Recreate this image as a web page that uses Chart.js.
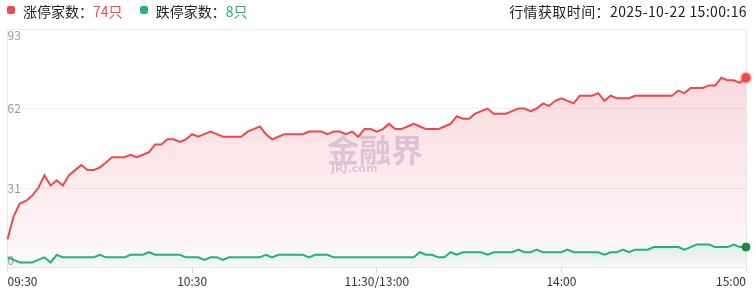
<!DOCTYPE html>
<html>
<head>
<meta charset="utf-8">
<script src="https://cdn.jsdelivr.net/npm/chart.js@4/dist/chart.umd.min.js"></script>
<style>
    body { margin: 0; width: 756px; height: 295px; position: relative; overflow: hidden; background: #fff;
           font-family: "Microsoft YaHei", "Noto Sans CJK SC", sans-serif; }
    .hd { position: absolute; top: 0; left: 0; right: 0; height: 22px; font-size: 14px; color: #222; line-height: 22px; }
    .hd .lg { position: absolute; left: 7px; }
    .hd .lg span.sq { display: inline-block; width: 8px; height: 8px; border-radius: 2px; margin-right: 8px; vertical-align: 3px; }
    .hd .up { color: #f2474b; }
    .hd .dn { color: #1fb57a; }
    .hd .tm { position: absolute; right: 9px; letter-spacing: 0.4px; }
    #wrap { position: absolute; left: 0; top: 0; width: 756px; height: 295px; }
</style>
</head>
<body>
<div id="wrap"><canvas id="limit-chart"></canvas></div>
<div class="hd">
    <div class="lg">
        <span class="sq" style="background:#f2474b"></span>涨停家数：<span class="up">74只</span>
        <span class="sq" style="background:#1fb57a;margin-left:14px"></span>跌停家数：<span class="dn">8只</span>
    </div>
    <div class="tm">行情获取时间：2025-10-22 15:00:16</div>
</div>
<script>
// one point every 2 minutes: 09:30-11:30, 13:00-15:00
const limitUp = [
    11, 20, 25, 26, 28, 31, 36, 32, 34, 32,
    36, 38, 40, 38, 38, 39, 41, 43, 43, 43,
    44, 43, 44, 45, 48, 48, 50, 50, 49, 50,
    52, 51, 52, 53, 52, 51, 51, 51, 51, 53,
    54, 55, 52, 50, 51, 52, 52, 52, 52, 53,
    53, 53, 52, 53, 53, 52, 53, 51, 54, 54,
    53, 54, 56, 54, 54, 55, 56, 55, 54, 54,
    54, 55, 56, 59, 58, 58, 60, 61, 62, 60,
    60, 60, 61, 62, 62, 61, 62, 64, 63, 65,
    66, 65, 64, 67, 67, 67, 68, 65, 67, 66,
    66, 66, 67, 67, 67, 67, 67, 67, 67, 69,
    68, 70, 70, 70, 71, 71, 74, 73, 73, 72, 74
];
const limitDown = [
    4, 3, 2, 2, 2, 3, 4, 2, 5, 4,
    4, 4, 4, 4, 4, 5, 4, 4, 4, 4,
    5, 5, 5, 6, 5, 5, 5, 5, 5, 4,
    4, 4, 3, 4, 4, 3, 4, 4, 4, 4,
    4, 4, 5, 4, 5, 5, 5, 5, 5, 4,
    5, 5, 5, 4, 4, 4, 4, 4, 4, 4,
    4, 4, 4, 4, 4, 4, 4, 6, 5, 5,
    4, 4, 6, 5, 6, 6, 6, 6, 5, 6,
    6, 6, 6, 7, 6, 6, 7, 6, 6, 6,
    6, 7, 6, 6, 6, 6, 6, 5, 6, 6,
    7, 6, 7, 7, 7, 8, 8, 8, 8, 8,
    7, 8, 9, 9, 9, 8, 8, 8, 9, 8, 8
];
const xTickLabels = ['09:30', '10:30', '11:30/13:00', '14:00', '15:00'];
const yTicks = [0, 31, 62, 93];

// build the time categories
function buildTimes(n) {
    const out = [];
    for (let i = 0; i < n; i++) {
        const m = i * 2;
        let t = m <= 120 ? 9 * 60 + 30 + m : 13 * 60 + (m - 120);
        const s = String(Math.floor(t / 60)).padStart(2, '0') + ':' + String(t % 60).padStart(2, '0');
        out.push(s);
    }
    out[60] = '11:30/13:00';
    return out;
}
const times = buildTimes(limitUp.length);

function vGradient(chart, top, bottom) {
    const area = chart.chartArea;
    if (!area) return top;
    const g = chart.ctx.createLinearGradient(0, area.top, 0, area.bottom);
    g.addColorStop(0, top);
    g.addColorStop(1, bottom);
    return g;
}

const lastOnly = (r) => (ctx) => ctx.dataIndex === limitUp.length - 1 ? r : 0;

// y labels inside the plot + watermark
const backdropPlugin = {
    id: 'backdrop',
    beforeDatasetsDraw(chart) {
        const ctx = chart.ctx, area = chart.chartArea, y = chart.scales.y;
        ctx.save();
        // watermark
        ctx.fillStyle = 'rgba(165,145,195,0.38)';
        ctx.textAlign = 'left';
        ctx.textBaseline = 'alphabetic';
        ctx.font = 'bold 32px "Noto Sans CJK SC", sans-serif';
        ctx.fillText('金融界', 327, 162);
        ctx.font = 'bold 11px "DejaVu Sans", sans-serif';
        ctx.fillText('JRJ.com', 331, 172);
        // y tick labels
        ctx.font = '12px "Noto Sans CJK SC", sans-serif';
        ctx.fillStyle = '#999';
        ctx.textBaseline = 'middle';
        yTicks.forEach(v => {
            let py = y.getPixelForValue(v);
            py = Math.min(Math.max(py, area.top + 6), area.bottom - 7);
            ctx.fillText(String(v), area.left, py);
        });
        ctx.restore();
    }
};

new Chart(document.getElementById('limit-chart'), {
    type: 'line',
    data: {
        labels: times,
        datasets: [{
            label: '涨停家数',
            data: limitUp,
            borderColor: '#f2474b',
            borderWidth: 2,
            tension: 0,
            fill: 'origin',
            backgroundColor: (c) => vGradient(c.chart, 'rgba(222,80,100,0.26)', 'rgba(222,80,100,0.03)'),
            pointRadius: lastOnly(4.5),
            pointBackgroundColor: '#f2474b',
            pointBorderColor: 'rgba(242,71,75,0.4)',
            pointBorderWidth: 3,
            order: 2
        }, {
            label: '跌停家数',
            data: limitDown,
            borderColor: '#1fb57a',
            borderWidth: 2,
            tension: 0,
            fill: 'origin',
            backgroundColor: (c) => {
                const area = c.chart.chartArea;
                if (!area) return 'rgba(31,181,122,0.1)';
                const g = c.chart.ctx.createLinearGradient(0, area.bottom - 30, 0, area.bottom);
                g.addColorStop(0, 'rgba(31,181,122,0.16)');
                g.addColorStop(1, 'rgba(31,181,122,0.03)');
                return g;
            },
            pointRadius: lastOnly(4),
            pointBackgroundColor: '#1e8a3a',
            pointBorderColor: '#1e8a3a',
            pointBorderWidth: 1,
            order: 1
        }]
    },
    options: {
        responsive: true,
        maintainAspectRatio: false,
        animation: false,
        layout: {
            padding: { top: 29, left: 7, right: 10, bottom: 4 }
        },
        plugins: {
            legend: { display: false },
            tooltip: { enabled: false }
        },
        scales: {
            x: {
                grid: {
                    drawOnChartArea: false,
                    drawTicks: true,
                    tickLength: 5,
                    color: '#d3dbe6'
                },
                border: { color: '#e6e9ef' },
                ticks: {
                    autoSkip: false,
                    maxRotation: 0,
                    align: 'inner',
                    padding: 2,
                    color: '#333',
                    font: { size: 12, family: '"Noto Sans CJK SC", sans-serif' },
                    callback: function(value, index) {
                        const t = times[index];
                        return xTickLabels.includes(t) ? t : null;
                    }
                }
            },
            y: {
                min: 0,
                max: 93,
                afterBuildTicks: (scale) => { scale.ticks = yTicks.map(v => ({ value: v })); },
                grid: { color: '#efefef', drawTicks: false },
                border: { color: '#e8e8e8' },
                ticks: { display: false }
            },
            y1: {
                position: 'right',
                min: 0,
                max: 93,
                grid: { drawOnChartArea: false, drawTicks: false },
                border: { color: '#e8e8e8' },
                ticks: { display: false }
            }
        }
    },
    plugins: [backdropPlugin]
});
</script>
</body>
</html>
